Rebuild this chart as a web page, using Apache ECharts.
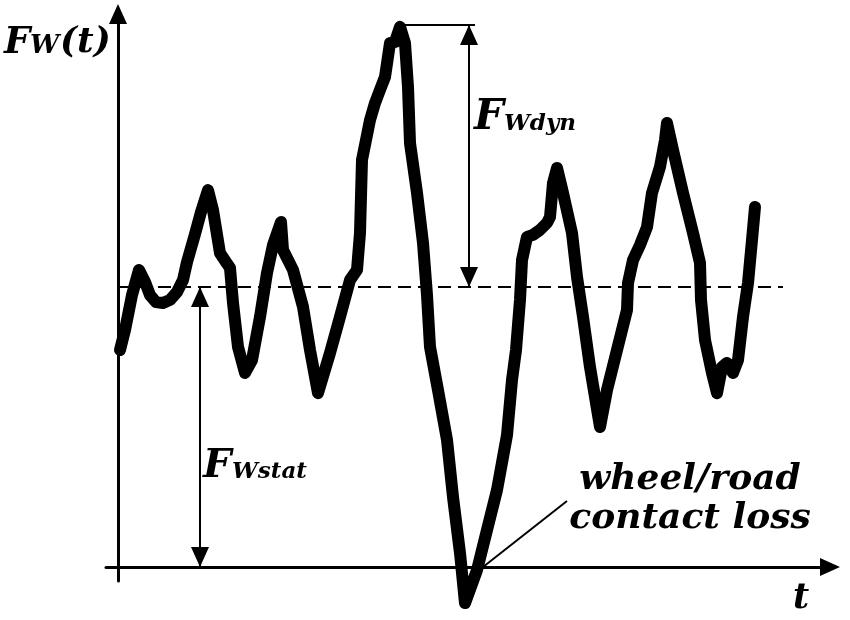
<!DOCTYPE html>
<html>
<head>
<meta charset="utf-8">
<script src="https://cdn.jsdelivr.net/npm/echarts@6/dist/echarts.min.js"></script>
<style>html,body{margin:0;padding:0;background:#fff}#c{width:850px;height:620px}</style>
</head>
<body>
<div id="c"></div>
<script>
// time samples (arbitrary units) and wheel load F_W(t) (arbitrary units, static load = 10)
const timeT = [0.2,0.7,1.4,2.1,2.7,3.2,3.8,4.5,5.2,5.9,6.5,6.9,7.7,8.3,9.0,9.5,10.2,10.8,11.2,11.5,12.0,12.7,13.4,14.2,14.9,15.5,16.3,16.5,17.5,18.5,19.2,20.0,21.2,22.2,23.2,23.9,24.2,24.4,25.2,25.7,26.2,26.7,27.2,27.7,28.2,28.7,29.0,29.2,29.9,30.5,30.9,31.2,32.0,32.9,33.5,34.2,34.7,35.9,36.9,37.9,38.9,39.4,39.8,40.2,40.4,40.9,41.5,42.2,42.9,43.2,43.5,43.9,44.5,45.4,45.9,46.5,47.2,48.2,48.9,49.9,50.9,51.0,51.5,52.2,52.9,53.4,54.2,54.7,54.9,55.5,56.5,57.5,58.2,58.3,58.7,59.4,59.9,60.4,60.9,61.5,62.0,62.5,63.0,63.4,63.7];
const forceF = [7.75,8.46,9.71,10.61,10.18,9.71,9.46,9.43,9.54,9.82,10.25,10.89,11.89,12.68,13.46,12.75,11.21,10.89,10.68,9.43,7.86,6.93,7.39,8.93,10.5,11.5,12.32,11.32,10.61,9.29,7.75,6.21,7.64,8.93,10.25,10.61,11.93,14.54,15.96,16.57,17.04,17.5,18.71,18.75,19.29,18.71,17.14,15.14,13.36,11.57,9.71,7.86,6.32,4.54,2.5,0.5,-1.29,-0.11,1.32,2.75,4.71,6.68,7.75,9.54,10.96,11.79,11.86,12.04,12.29,12.5,13.71,14.25,13.36,11.93,10.36,8.93,7.14,5.0,6.32,7.75,9.18,10.14,10.96,11.5,12.14,13.36,14.29,15.25,15.86,14.89,13.36,11.93,10.86,9.54,8.11,6.93,6.21,7.14,7.29,6.93,7.39,8.93,10.14,11.68,12.86];
const staticLoad = 10;           // F_Wstat level (dashed line)
const staticLineEnd = 66.5;      // dashed line extent in t
const peakLoad = 19.36;          // max F_W (top of F_Wdyn)
const peakTime = 28.2;
const statArrowT = 8.2;          // t position of F_Wstat arrow
const dynArrowT = 35.1;          // t position of F_Wdyn arrow
const dynLineEnd = 35.7;
const lossPoint = [36.5, 0];     // leader line start
const lossLabelPoint = [44.9, 2.36];

const seriesData = timeT.map((t, i) => [t, forceF[i]]);
const FONT = '"DejaVu Serif"';

const chart = echarts.init(document.getElementById('c'), null, {renderer: 'canvas'});
const thin = {color: '#000', width: 2, type: 'solid'};
const tri = {symbol: 'triangle', symbolSize: [18, 20], symbolOffset: [0, 10]};
const noSym = {symbol: 'none'};

function txt(text, x, y, size) {
  return {type: 'text', x: x, y: y, silent: true,
    style: {text: text, fill: '#000', fontFamily: FONT, fontStyle: 'italic', fontWeight: 'bold',
            fontSize: size, align: 'left', verticalAlign: 'top'}};
}
function ctxt(text, x, y, size) {
  const t = txt(text, x, y, size); t.style.align = 'center'; return t;
}

chart.setOption({
  animation: false,
  backgroundColor: '#fff',
  grid: {left: 106, right: 20, top: 14, bottom: 39, containLabel: false},
  xAxis: {type: 'value', min: -1.2, max: 71.2,
    axisLine: {show: true, onZero: true, symbol: ['none', 'triangle'], symbolSize: [18, 20],
      lineStyle: {color: '#000', width: 3}},
    axisTick: {show: false}, axisLabel: {show: false}, splitLine: {show: false}},
  yAxis: {type: 'value', min: -0.5, max: 19.75, offset: -12,
    axisLine: {show: true, onZero: false, symbol: ['none', 'triangle'], symbolSize: [18, 20],
      lineStyle: {color: '#000', width: 3}},
    axisTick: {show: false}, axisLabel: {show: false}, splitLine: {show: false}},
  series: [
    {type: 'line', data: seriesData, showSymbol: false, symbol: 'none', clip: false, silent: true,
      lineStyle: {color: '#000', width: 12, cap: 'round', join: 'round'}, z: 3},
    {type: 'line', data: [], silent: true, z: 2,
      markLine: {silent: true, animation: false, label: {show: false}, emphasis: {disabled: true},
        symbol: ['none', 'none'],
        data: [
          [{coord: [0, staticLoad], ...noSym, lineStyle: {color: '#000', width: 2.2, type: [13, 7]}},
           {coord: [staticLineEnd, staticLoad], ...noSym}],
          [{coord: [peakTime, peakLoad], ...noSym, lineStyle: thin},
           {coord: [dynLineEnd, peakLoad], ...noSym}],
          [{coord: [statArrowT, staticLoad], ...tri, lineStyle: thin},
           {coord: [statArrowT, 0], ...tri}],
          [{coord: [dynArrowT, peakLoad], ...tri, lineStyle: thin},
           {coord: [dynArrowT, staticLoad], ...tri}],
          [{coord: lossPoint, ...noSym, lineStyle: thin},
           {coord: lossLabelPoint, ...noSym}]
        ]}}
  ],
  graphic: [
    txt('F', 4, 25, 37), txt('W', 30, 33, 26), txt('(t)', 60, 25, 36),
    txt('F', 474, 97, 42), txt('Wdyn', 504, 113, 23),
    txt('F', 203, 447, 40), txt('Wstat', 232, 461, 23),
    ctxt('wheel/road', 690, 462, 36),
    ctxt('contact loss', 690, 501, 36),
    txt('t', 793, 581, 35)
  ]
});
</script>
</body>
</html>
